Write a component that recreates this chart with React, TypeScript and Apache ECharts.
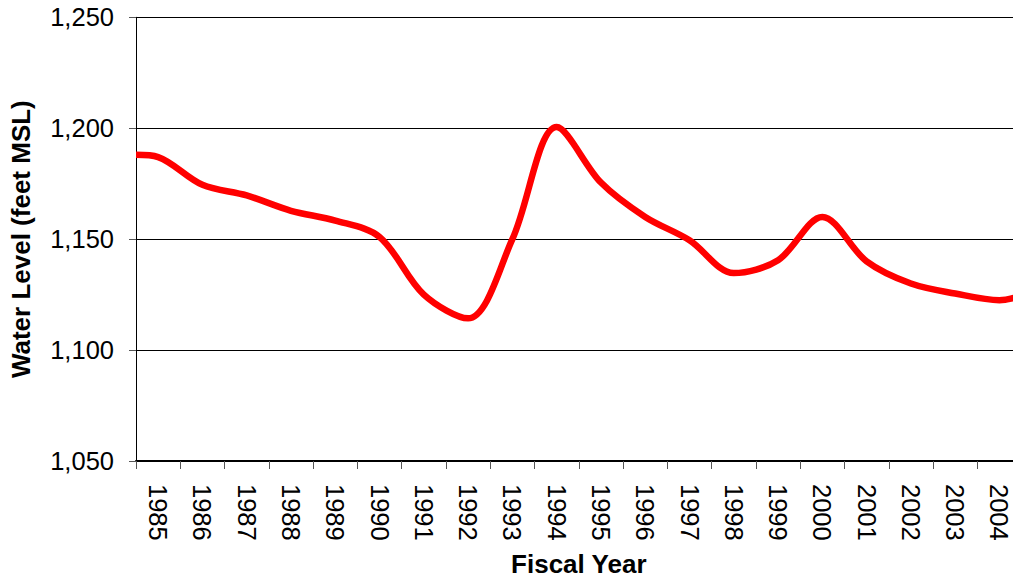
import React, { useEffect, useRef } from "react";
import * as echarts from "echarts";

const fiscalYears = ["1985","1986","1987","1988","1989","1990","1991","1992","1993","1994","1995","1996","1997","1998","1999","2000","2001","2002","2003","2004"];
const yearValues = [1985,1986,1987,1988,1989,1990,1991,1992,1993,1994,1995,1996,1997,1998,1999,2000,2001,2002,2003,2004];
const waterLevel = [1187, 1174.5, 1169.7, 1162.8, 1158.4, 1151, 1125, 1114.3, 1150, 1200.5, 1175.5, 1160, 1149.5, 1134.7, 1140.5, 1160, 1140, 1130, 1125.5, 1122.5];
// levels at the start of FY1985 and end of FY2004
const startLevel = { year: 1984.5, level: 1188 };
const endLevel = { year: 2004.5, level: 1124.5 };
const yTicks = { min: 1050, max: 1250, step: 50 };

const FONT = "Liberation Sans, Arial, sans-serif";

export default function App() {
  const ref = useRef<HTMLDivElement>(null);
  useEffect(() => {
    if (!ref.current) return;
    const chart = echarts.init(ref.current, undefined, { renderer: "svg" });
    const lineData: [number, number][] = [
      [startLevel.year, startLevel.level],
      ...yearValues.map((y, i) => [y, waterLevel[i]] as [number, number]),
      [endLevel.year, endLevel.level],
    ];
    chart.setOption({
      animation: false,
      backgroundColor: "#fff",
      grid: { left: 135.7, right: 8.4, top: 17.3, bottom: 118.7, containLabel: false },
      xAxis: [
        {
          type: "category",
          data: fiscalYears,
          boundaryGap: true,
          name: "Fiscal Year",
          nameLocation: "middle",
          nameGap: 90,
          nameTextStyle: { fontFamily: FONT, fontWeight: "bold", fontSize: 26, color: "#000" },
          axisLine: { lineStyle: { color: "#000", width: 2 } },
          axisTick: { show: true, alignWithLabel: false, length: 8, inside: false, lineStyle: { color: "#555", width: 1 } },
          axisLabel: { interval: 0, rotate: -90, margin: 23, fontSize: 25.5, color: "#000", fontFamily: FONT },
          splitLine: { show: false },
        },
        {
          type: "value",
          show: false,
          min: 1984.5,
          max: 2004.5,
          splitLine: { show: false },
        },
      ],
      yAxis: {
        type: "value",
        min: yTicks.min,
        max: yTicks.max,
        interval: yTicks.step,
        name: "Water Level (feet MSL)",
        nameLocation: "middle",
        nameGap: 102,
        nameTextStyle: { fontFamily: FONT, fontWeight: "bold", fontSize: 26, color: "#000" },
        axisLine: { show: true, lineStyle: { color: "#000", width: 1 } },
        axisTick: { show: true, length: 7, lineStyle: { color: "#555", width: 1 } },
        axisLabel: {
          margin: 22,
          fontSize: 25.5,
          color: "#000",
          fontFamily: FONT,
          formatter: (v: number) => v.toLocaleString("en-US"),
        },
        splitLine: { show: true, lineStyle: { color: "#000", width: 1 } },
      },
      series: [
        {
          type: "line",
          xAxisIndex: 1,
          data: lineData,
          smooth: 0.33,
          smoothConstraint: false,
          showSymbol: false,
          symbol: "none",
          lineStyle: { color: "#ff0000", width: 6.5 },
          clip: true,
        },
      ],
    });
    return () => chart.dispose();
  }, []);
  return (
    <div style={{ position: "absolute", left: 0, top: 0, width: 1013, height: 582, overflow: "hidden", background: "#fff" }}>
      <div ref={ref} style={{ width: 1030, height: 582 }} />
    </div>
  );
}
